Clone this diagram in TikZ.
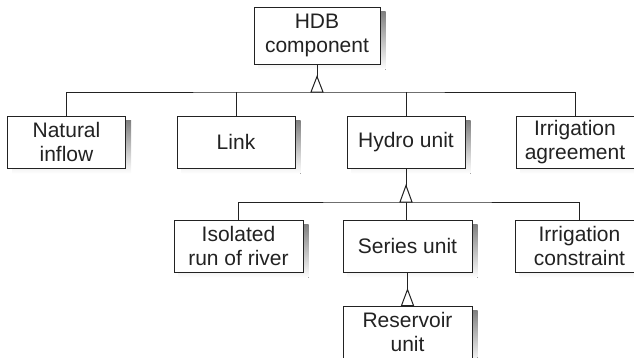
\documentclass[tikz,border=0pt]{standalone}
\usepackage{fontspec}
\setmainfont{Liberation Sans}
\pgfdeclarelayer{background}
\pgfsetlayers{background,main}
\definecolor{ink}{HTML}{222222}
\definecolor{shade}{HTML}{A6A6A6}
\tikzset{
  cls/.style={draw=ink, line width=1pt, fill=white, text=ink, inner sep=0pt,
    align=center, minimum height=52pt,
    font=\fontsize{21}{24}\selectfont},
  small/.style={cls, minimum width=118pt},
  wide/.style={cls, minimum width=129pt},
  link/.style={draw=ink, line width=1pt},
  gentip/.style={draw=ink, line width=1pt, fill=white, line join=miter}
}
\begin{document}
\begin{tikzpicture}[x=1pt, y=-1pt]
  \useasboundingbox (0,0) rectangle (634,357);
  \clip (0,0) rectangle (634,357);

  % class boxes
  \node[cls, minimum width=126pt, minimum height=57pt] (hdb) at (317,35.5) {HDB\\component};

  \node[small] (nat)   at (66.5,142) {Natural\\inflow};
  \node[small] (lnk)   at (236,142)  {Link};
  \node[small] (hydro) at (406,142)  {Hydro unit};
  \node[small] (irra)  at (575,142)  {Irrigation\\agreement};

  \node[wide] (iso)  at (238.5,246) {Isolated\\run of river};
  \node[wide] (ser)  at (407.5,246) {Series unit};
  \node[wide] (irrc) at (579.5,246) {Irrigation\\constraint};

  \node[wide] (res) at (407.5,332) {Reservoir\\unit};

  % drop shadows behind every box
  \begin{pgfonlayer}{background}
    \foreach \b in {hdb,nat,lnk,hydro,irra,iso,ser,irrc,res}
      \fill[shade] ([shift={(5,5)}]\b.north west) rectangle ([shift={(5,5)}]\b.south east);
  \end{pgfonlayer}

  % generalisation: HDB component
  \coordinate (t1) at ([yshift=-12pt]hdb.south);
  \coordinate (b1) at (hdb.south |- 0,92);
  \draw[link] (nat.north) |- (b1) -| (irra.north);
  \draw[link] (lnk.north) -- (lnk.north |- b1);
  \draw[link] (hydro.north) -- (hydro.north |- b1);
  \draw[link] (hdb.south) -- (t1);
  \draw[gentip] (t1) -- ([xshift=-6pt]b1) -- ([xshift=6pt]b1) -- cycle;

  % generalisation: Hydro unit
  \coordinate (t2) at ([yshift=-17pt]hydro.south);
  \coordinate (b2) at (hydro.south |- 0,202);
  \draw[link] (iso.north) |- (b2) -| (irrc.north);
  \draw[link] (b2) -- (b2 |- ser.north);
  \draw[link] (hydro.south) -- (t2);
  \draw[gentip] (t2) -- ([xshift=-6pt]b2) -- ([xshift=6pt]b2) -- cycle;

  % generalisation: Series unit
  \coordinate (t3) at ([yshift=-17pt]ser.south);
  \draw[link] (ser.south) -- (t3);
  \draw[gentip] (t3) -- ([xshift=-6pt]res.north) -- ([xshift=6pt]res.north) -- cycle;
\end{tikzpicture}
\end{document}
